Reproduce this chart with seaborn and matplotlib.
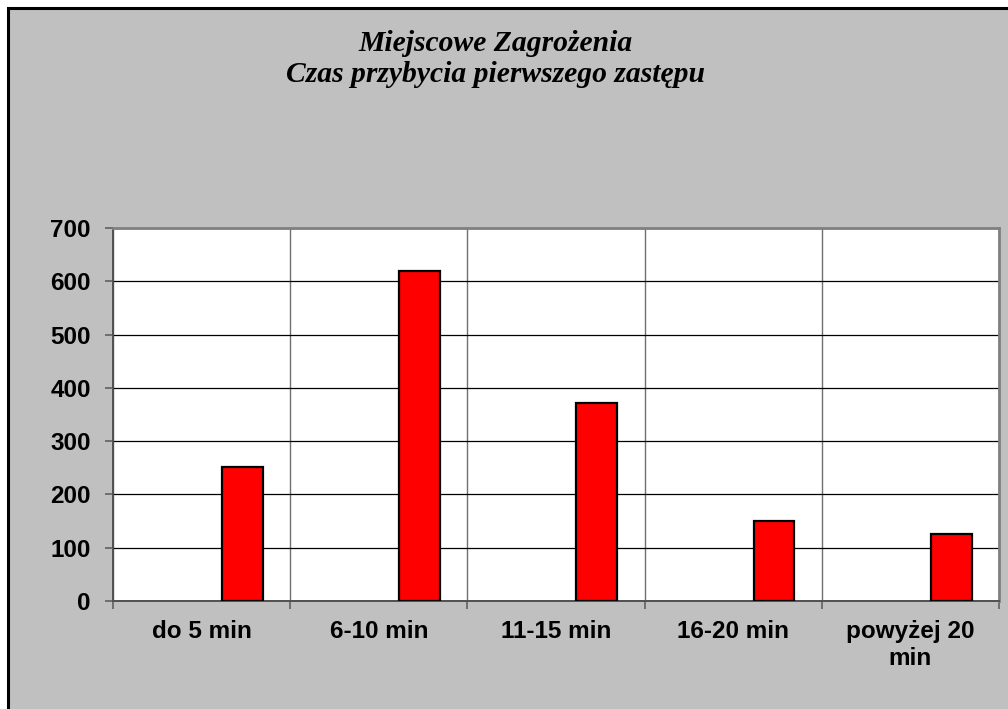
import numpy as np
import pandas as pd
import seaborn as sns
import matplotlib.pyplot as plt
from matplotlib.patches import Rectangle

# Dane
kategorie = ["do 5 min", "6-10 min", "11-15 min", "16-20 min", "powyżej 20\nmin"]
liczba_zdarzen = [252, 620, 372, 150, 125]
serie = ["seria 1", "seria 2", "Miejscowe Zagrożenia"]  # dwie pierwsze serie puste
seria_z_danymi = "Miejscowe Zagrożenia"
tytul = "Miejscowe Zagrożenia\nCzas przybycia pierwszego zastępu"

df = pd.DataFrame({
    "kategoria": kategorie,
    "liczba": liczba_zdarzen,
    "seria": seria_z_danymi,
})

sns.set_theme(style="white")
plt.rcParams["font.family"] = ["Liberation Sans", "DejaVu Sans"]

W, H = 1008, 709
fig = plt.figure(figsize=(W / 100, H / 100), dpi=100)
fig.patch.set_facecolor("white")

# szare tło z czarną ramką (ucięte z prawej i od dołu)
tlo = Rectangle((8 / W, -0.1), 1.2, (H - 8) / H + 0.1, transform=fig.transFigure,
                facecolor="#C0C0C0", edgecolor="black", linewidth=2.2, zorder=0)
fig.add_artist(tlo)

ax = fig.add_axes([113 / W, 1 - 601 / H, (999 - 113) / W, (601 - 228) / H])
ax.set_facecolor("white")

sns.barplot(data=df, x="kategoria", y="liczba", hue="seria", hue_order=serie,
            palette={s: "#FF0000" for s in serie}, width=0.69, gap=0, dodge=True,
            edgecolor="black", linewidth=1.6, saturation=1, errorbar=None,
            legend=False, ax=ax, zorder=3)

ax.set_xlim(-0.5, len(kategorie) - 0.5)
ax.set_ylim(0, 700)
ax.set_yticks(np.arange(0, 701, 100))
ax.set_xticks(np.arange(-0.5, len(kategorie), 1), minor=True)

ax.grid(False)
ax.yaxis.grid(True, color="black", linewidth=0.9, zorder=0)
ax.xaxis.grid(True, which="minor", color="#707070", linewidth=1.0, zorder=0)
ax.set_axisbelow(True)

ax.tick_params(axis="y", which="major", length=6, width=1.2, color="#606060",
               direction="out", left=True, pad=10, labelsize=17.5)
ax.tick_params(axis="x", which="major", length=0, pad=14, labelsize=17.5)
ax.tick_params(axis="x", which="minor", length=5.5, width=1.2, color="#606060",
               direction="out", bottom=True)
for lab in ax.get_xticklabels() + ax.get_yticklabels():
    lab.set_fontweight("bold")
    lab.set_color("black")
for lab in ax.get_xticklabels():
    lab.set_multialignment("center")

for side in ["left", "bottom"]:
    ax.spines[side].set_color("#505050")
    ax.spines[side].set_linewidth(1.4)
for side in ["top", "right"]:
    ax.spines[side].set_color("#808080")
    ax.spines[side].set_linewidth(2.0)

ax.set_xlabel("")
ax.set_ylabel("")

fig.text(0.492, 1 - 59 / H, tytul, ha="center", va="center", fontsize=21.3,
         style="italic", fontweight="bold", family=["Liberation Serif", "DejaVu Serif"],
         linespacing=1.2, color="black")

fig.savefig("out.png", dpi=100, facecolor=fig.get_facecolor())
